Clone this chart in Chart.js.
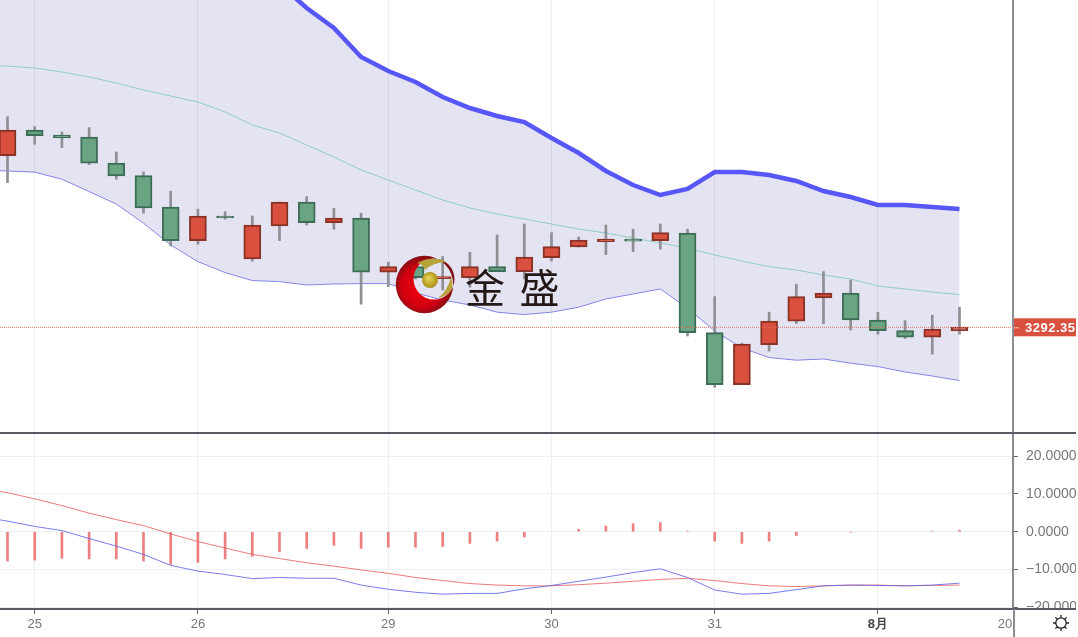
<!DOCTYPE html>
<html>
<head>
<meta charset="utf-8">
<title>K线</title>
<script src="https://cdn.jsdelivr.net/npm/chart.js@4/dist/chart.umd.min.js"></script>
<style>
html, body { margin: 0; padding: 0; background: #fff; overflow: hidden; }
canvas { position: absolute; left: 0; filter: blur(0.35px); }
#price { top: 0; }
#macd { top: 432px; }
</style>
</head>
<body>
<canvas id="price" width="1076" height="433"></canvas>
<canvas id="macd" width="1076" height="205"></canvas>
<script>
// every series starts one bar left of the visible area, so lines run to the edge
const opens = [null, 3378.2, 3391, 3388.4, 3387.4, 3374.5, 3368.2, 3352.4, 3335.7, 3348, 3326.5, 3343, 3355, 3344.7, 3347, 3319.9, 3322.7, 3316.7, 3317.2, 3322.7, 3320.2, 3327.2, 3332.5, 3335.2, 3336.4, 3335.7, 3339.5, 3289.7, 3263.7, 3283.7, 3295.4, 3307, 3309.4, 3296, 3290.7, 3287.4, 3290.7]
const closes = [null, 3391, 3388.2, 3387, 3374.4, 3368, 3352, 3335.7, 3348, 3347, 3343.4, 3355, 3344.7, 3347, 3319.9, 3322.7, 3317.2, 3317.7, 3322.7, 3320.2, 3327.4, 3332.7, 3335.9, 3336.4, 3335.4, 3339.7, 3289.7, 3263.7, 3283.9, 3295.5, 3307.7, 3309.4, 3296, 3290.7, 3287.4, 3291.4, 3292.35]
const highs = [null, 3397.7, 3392.7, 3390, 3392.2, 3380, 3370, 3360.4, 3351.4, 3350.2, 3348, 3355, 3357.7, 3351.9, 3349.4, 3324.9, 3324, 3327.7, 3329.9, 3338.5, 3344, 3339.7, 3337.5, 3343.5, 3341.4, 3344, 3341.4, 3307.7, 3284.4, 3299.9, 3313.9, 3320.2, 3316, 3299.9, 3295.7, 3298.4, 3302.4]
const lows = [null, 3364.7, 3383.9, 3382.2, 3373.7, 3366.4, 3349.4, 3333, 3333.9, 3346.4, 3325.4, 3335.7, 3343.5, 3341.4, 3303.9, 3312.7, 3316.5, 3311, 3312.4, 3320.2, 3316.5, 3325.5, 3332.5, 3328.7, 3330.2, 3331.4, 3288, 3262.4, 3263.7, 3280.5, 3294.2, 3294.2, 3291, 3288.9, 3286.7, 3278.9, 3288.9]

const bandUpper = [3556, 3553.5, 3550, 3545, 3538.5, 3531, 3523.5, 3513.5, 3502, 3489, 3476, 3464, 3452, 3442, 3427.5, 3420.5, 3415, 3407.5, 3402, 3398, 3395, 3387, 3379.5, 3370.5, 3363.5, 3358.5, 3361.5, 3370, 3370, 3368.5, 3365.5, 3360.5, 3357.5, 3353.5, 3353.5, 3352.5, 3351.5]
const bandMiddle = [3423, 3423, 3422, 3420, 3417.5, 3414.5, 3411, 3408, 3405, 3400, 3393.5, 3389.5, 3383.5, 3377.5, 3371, 3366, 3361, 3356, 3352, 3349, 3346.5, 3344, 3341.5, 3339.5, 3337, 3334.5, 3332, 3328.5, 3325.5, 3322.7, 3321, 3318.5, 3316.5, 3313, 3311.5, 3310, 3308.7]
const bandLower = [3371, 3370.5, 3369.9, 3366.4, 3360.2, 3354, 3344.4, 3333.5, 3325.2, 3319.7, 3315.7, 3315.2, 3313.5, 3314, 3314.2, 3314.2, 3309.5, 3306, 3303.5, 3299.9, 3298.7, 3299.9, 3302.4, 3306.5, 3309, 3311.5, 3302, 3290.5, 3282, 3277.2, 3275.9, 3276.5, 3274.4, 3272.7, 3270, 3268, 3265.7]

const macdHist = [null, -7.75, -7.5, -7, -7.2, -7.2, -7.75, -8.6, -8.1, -7.2, -6.5, -5.3, -4.4, -3.6, -4.4, -4.1, -4.1, -3.9, -3.1, -2.5, -1.4, null, 0.6, 1.5, 2.1, 2.4, 0.15, -2.5, -3.1, -2.5, -1, null, -0.15, null, null, 0.15, 0.4]
const macdSlow = [11.6, 10.3, 8.7, 6.9, 4.9, 3.2, 1.6, -0.6, -2.6, -4.3, -6, -7.1, -8.2, -9.1, -10.1, -11, -12.1, -12.9, -13.7, -14.1, -14.3, -14.3, -14, -13.6, -13.1, -12.6, -12.3, -12.9, -13.7, -14.3, -14.5, -14.3, -14.1, -14.1, -14.3, -14.2, -14.1]
const macdFast = [4, 2.8, 1.4, 0.3, -1.8, -3.8, -6, -8.9, -10.4, -11.3, -12.4, -12.1, -12.3, -12.3, -14.1, -15.2, -16, -16.5, -16.3, -16.3, -15.1, -14.2, -13.1, -12, -10.8, -9.8, -12.1, -15.4, -16.5, -16.3, -15.3, -14.3, -14.1, -14.2, -14.3, -14.1, -13.6]

const dayTicks = [2, 8, 15, 21, 27, 33, 37.67]
const dayLabels = ['25', '26', '29', '30', '31', '8月', '20']
const macdTicks = [20, 10, 0, -10, -20]
const lastPrice = 3292.35
const xMin = 0.7243
const xMax = 37.967

const GREEN = '#6aa583'
const GREEN_EDGE = '#3d6d57'
const RED = '#d9503e'
const RED_EDGE = '#8a3226'
const GREY = '#8b8b92'
const TEXT = '#777777'
const GRID = '#ebf0f5'
const FONT = 'Arial, "Liberation Sans", sans-serif'

const points = (values) => values.map((y, x) => ({ x, y })).filter((p) => p.y !== null)
const isUp = (i) => closes[i] >= opens[i]
const candleIndexes = opens.map((_, i) => i).filter((i) => opens[i] !== null)

const lineSet = (values, color, width, extra) => Object.assign({
    type: 'line',
    data: points(values),
    borderColor: color,
    borderWidth: width,
    pointRadius: 0,
    tension: 0,
    fill: false
}, extra)

const xScale = (extra) => Object.assign({
    type: 'linear',
    min: xMin,
    max: xMax,
    offset: false,
    afterBuildTicks(scale) {
        scale.ticks = dayTicks.map((value) => ({ value }))
    }
}, extra)

const logo = {
    id: 'logo',
    afterDraw(chart) {
        const ctx = chart.ctx
        ctx.save()
        // crescent
        const red = ctx.createRadialGradient(418, 290, 4, 424, 285, 30)
        red.addColorStop(0, '#e8000f')
        red.addColorStop(0.65, '#cf0010')
        red.addColorStop(1, '#7c1016')
        ctx.beginPath()
        ctx.arc(424.5, 284.5, 28.7, 0, Math.PI * 2)
        ctx.arc(434, 279, 20.5, 0, Math.PI * 2, true)
        ctx.fillStyle = red
        ctx.fill('evenodd')
        // gold swooshes
        ctx.fillStyle = '#b8a23c'
        ctx.beginPath()
        ctx.moveTo(417, 263)
        ctx.quadraticCurveTo(432, 255, 447, 262)
        ctx.quadraticCurveTo(434, 262, 425, 270)
        ctx.quadraticCurveTo(423, 264, 417, 263)
        ctx.fill()
        ctx.beginPath()
        ctx.moveTo(438, 298)
        ctx.quadraticCurveTo(447, 292, 451, 277)
        ctx.quadraticCurveTo(457, 294, 438, 298)
        ctx.fill()
        // ball
        const gold = ctx.createRadialGradient(428, 278, 1, 430, 280, 8.5)
        gold.addColorStop(0, '#e6cf55')
        gold.addColorStop(1, '#a88f14')
        ctx.fillStyle = gold
        ctx.beginPath()
        ctx.arc(430, 280, 8, 0, Math.PI * 2)
        ctx.fill()
        // name
        ctx.fillStyle = '#231815'
        ctx.font = '40px "Noto Sans CJK SC"'
        ctx.textAlign = 'left'
        ctx.textBaseline = 'alphabetic'
        ctx.fillText('金', 465, 303)
        ctx.fillText('盛', 519.5, 303)
        ctx.restore()
    }
}

const priceTag = {
    id: 'priceTag',
    afterDraw(chart) {
        const ctx = chart.ctx
        const y = chart.scales.y.getPixelForValue(lastPrice)
        ctx.save()
        ctx.fillStyle = RED
        ctx.fillRect(1014, y - 9, 62, 18)
        ctx.strokeStyle = '#f3c4bb'
        ctx.lineWidth = 1
        ctx.beginPath()
        ctx.moveTo(1014, y + 0.5)
        ctx.lineTo(1019, y + 0.5)
        ctx.stroke()
        ctx.fillStyle = '#ffffff'
        ctx.font = 'bold 13px ' + FONT
        ctx.letterSpacing = '0.5px'
        ctx.textAlign = 'left'
        ctx.textBaseline = 'middle'
        ctx.fillText(lastPrice.toFixed(3), 1025, y + 1)
        ctx.restore()
    }
}

const macdFrame = {
    id: 'macdFrame',
    afterDraw(chart) {
        const ctx = chart.ctx
        const bottom = chart.chartArea.bottom
        const right = chart.chartArea.right
        ctx.save()
        // the lowest label is cut off by the pane edge
        ctx.fillStyle = '#ffffff'
        ctx.fillRect(right + 2, bottom, 70, 40)
        ctx.fillStyle = '#5a5a66'
        ctx.fillRect(0, 0, 1076, 2)
        ctx.fillRect(0, bottom - 1, 1076, 2)
        ctx.fillStyle = GREY
        ctx.fillRect(right, bottom, 2, 40)
        // settings icon
        const cx = 1061
        const cy = 191
        ctx.strokeStyle = '#222222'
        ctx.lineWidth = 1.3
        ctx.beginPath()
        ctx.arc(cx, cy, 5.2, 0, Math.PI * 2)
        for (let i = 0; i < 8; i++) {
            const a = i * Math.PI / 4
            ctx.moveTo(cx + Math.cos(a) * 5.2, cy + Math.sin(a) * 5.2)
            ctx.lineTo(cx + Math.cos(a) * 8, cy + Math.sin(a) * 8)
        }
        ctx.stroke()
        ctx.restore()
    }
}

new Chart(document.getElementById('price'), {
    data: {
        datasets: [
            lineSet(bandUpper, '#5757f7', 4.5, { order: 5, fill: { target: 2 }, backgroundColor: 'rgba(70,70,160,0.15)' }),
            lineSet(bandMiddle, '#9fe3cc', 1, { order: 5 }),
            lineSet(bandLower, '#8b8bec', 1, { order: 5 }),
            {
                type: 'bar',
                order: 4,
                grouped: false,
                barThickness: 2,
                data: candleIndexes.map((i) => ({ x: i, y: [lows[i], highs[i]] })),
                backgroundColor: '#8f8f95'
            },
            {
                type: 'bar',
                order: 3,
                grouped: false,
                barThickness: 17,
                borderWidth: 2,
                borderSkipped: false,
                data: candleIndexes.map((i) => ({ x: i, y: [opens[i], closes[i]] })),
                backgroundColor: candleIndexes.map((i) => (isUp(i) ? RED : GREEN)),
                borderColor: candleIndexes.map((i) => (isUp(i) ? RED_EDGE : GREEN_EDGE))
            },
            {
                type: 'line',
                order: 2,
                data: [{ x: xMin, y: lastPrice }, { x: xMax, y: lastPrice }],
                borderColor: '#e2705c',
                borderWidth: 1,
                borderDash: [1, 1],
                pointRadius: 0
            }
        ]
    },
    options: {
        responsive: false,
        animation: false,
        devicePixelRatio: 1,
        layout: { padding: 0 },
        plugins: { legend: { display: false }, tooltip: { enabled: false } },
        scales: {
            x: xScale({
                border: { display: false },
                grid: { offset: false, color: (c) => (c.tick && c.tick.value > 37 ? 'transparent' : GRID), drawTicks: false },
                ticks: { display: false },
                afterFit(scale) {
                    scale.height = 0
                    scale.paddingLeft = 0
                    scale.paddingRight = 0
                }
            }),
            y: {
                position: 'right',
                min: 3239.5,
                max: 3456,
                border: { color: GREY, width: 2 },
                grid: { display: false },
                ticks: { display: false },
                afterFit(scale) {
                    scale.width = 63
                    scale.paddingTop = 0
                    scale.paddingBottom = 0
                }
            }
        }
    },
    plugins: [logo, priceTag]
})

new Chart(document.getElementById('macd'), {
    data: {
        datasets: [
            {
                type: 'bar',
                order: 3,
                grouped: false,
                barThickness: 2,
                data: points(macdHist),
                backgroundColor: 'rgba(232,95,95,0.8)'
            },
            lineSet(macdSlow, 'rgba(232,100,100,0.85)', 1, { order: 2 }),
            lineSet(macdFast, 'rgba(100,100,230,0.85)', 1, { order: 1 })
        ]
    },
    options: {
        responsive: false,
        animation: false,
        devicePixelRatio: 1,
        layout: { padding: { top: 1 } },
        plugins: { legend: { display: false }, tooltip: { enabled: false } },
        scales: {
            x: xScale({
                border: { display: false },
                grid: {
                    offset: false,
                    color: (c) => (c.tick && c.tick.value > 37 ? 'transparent' : GRID),
                    tickColor: (c) => (c.tick && c.tick.value > 37 ? 'transparent' : '#666666'),
                    tickLength: 5
                },
                ticks: {
                    autoSkip: false,
                    maxRotation: 0,
                    padding: 3,
                    color: (c) => (c.tick && c.tick.value === 33 ? '#444444' : TEXT),
                    font: (c) => ({ family: FONT, size: 13, weight: c.tick && c.tick.value === 33 ? 'bold' : 'normal' }),
                    callback: (value) => dayLabels[dayTicks.indexOf(value)]
                },
                afterFit(scale) {
                    scale.height = 28
                    scale.paddingLeft = 0
                    scale.paddingRight = 0
                }
            }),
            y: {
                position: 'right',
                min: -20.42,
                max: 26.08,
                afterBuildTicks(scale) {
                    scale.ticks = macdTicks.map((value) => ({ value }))
                },
                border: { color: GREY, width: 2 },
                grid: { color: GRID, tickColor: '#666666', tickLength: 5 },
                ticks: {
                    padding: 8,
                    color: TEXT,
                    font: { family: FONT, size: 14 },
                    callback: (value) => value.toFixed(4).replace('-', '−')
                },
                afterFit(scale) {
                    scale.width = 63
                    scale.paddingTop = 0
                    scale.paddingBottom = 0
                }
            }
        }
    },
    plugins: [macdFrame]
})
</script>
</body>
</html>
